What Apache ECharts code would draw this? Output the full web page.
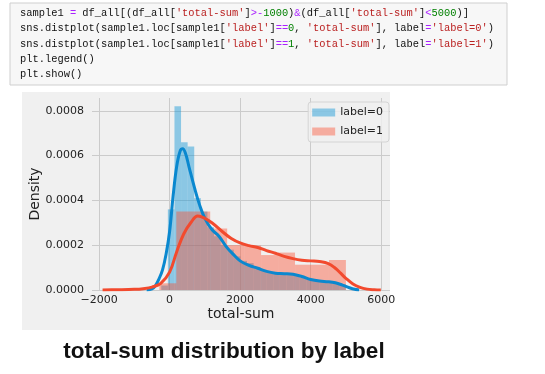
<!DOCTYPE html>
<html>
<head>
<meta charset="utf-8">
<script src="https://cdn.jsdelivr.net/npm/echarts@6/dist/echarts.min.js"></script>
<style>
html,body{margin:0;padding:0;background:#fff;}
#c{width:545px;height:374px;}
</style>
</head>
<body>
<div id="c"></div>
<script>
// ---- data ----
const seriesNames = ['label=0', 'label=1'];
const xTicks = [-2000, 0, 2000, 4000, 6000];
const yTicks = [0, 0.0002, 0.0004, 0.0006, 0.0008];

// histogram, label=0 (bin edges + densities)
const blueEdges = [-236, -49, 138, 325, 512, 699, 886, 1073, 1260, 1447, 1634, 1821, 2008, 2195, 2382,
  2569, 2756, 2943, 3130, 3317, 3504, 3691, 3878, 4065, 4252, 4439, 4626, 4813, 5000];
const blueHeights = [0.00002, 0.00036, 0.00082, 0.00066, 0.00064, 0.00041, 0.00035, 0.00028, 0.00024, 0.0002,
  0.00018, 0.00015, 0.00013, 0.00012, 0.0001, 0.00009, 0.00008, 0.000075, 0.00007, 0.00007,
  0.000065, 0.000055, 0.000048, 0.00004, 0.000038, 0.000036, 0.00003, 0.000025];

// histogram, label=1
const redEdges = [-291, 190, 671, 1152, 1633, 2114, 2595, 3076, 3557, 4038, 4519, 5000];
const redHeights = [0.00003, 0.00035, 0.00035, 0.000275, 0.0002, 0.000198, 0.000156, 0.000167, 0.000113, 0.000113, 0.000134];

// KDE curves
const blueKdeX = [-650, -500, -400, -300, -200, -100, 0, 100, 200, 300, 370, 450, 550, 700, 850, 1000, 1200, 1400,
  1600, 1800, 2000, 2250, 2500, 2750, 3000, 3250, 3500, 3750, 4000, 4250, 4500, 4700, 4900, 5100, 5250, 5375];
const blueKdeY = [0, 0.000005, 0.00002, 0.00005, 0.00009, 0.00016, 0.00026, 0.00042, 0.00055, 0.00062, 0.00063, 0.00061,
  0.00055, 0.00046, 0.00038, 0.00032, 0.00027, 0.00024, 0.000195, 0.00016, 0.00013, 0.00011, 0.000097, 0.000083,
  0.000075, 0.000073, 0.00007, 0.00006, 0.000047, 0.00004, 0.000037, 0.000032, 0.000022, 0.00001, 0.000003, 0];

const redKdeX = [-1900, -1500, -1000, -750, -500, -250, 0, 200, 400, 600, 800, 1000, 1200, 1500, 1750, 2000, 2250,
  2500, 2750, 3000, 3250, 3500, 3750, 4000, 4250, 4500, 4700, 4850, 5000, 5200, 5400, 5600, 5800, 5990];
const redKdeY = [0, 0.000001, 0.000003, 0.000006, 0.000013, 0.00003, 0.00008, 0.00017, 0.00025, 0.0003, 0.00033,
  0.00032, 0.0003, 0.00026, 0.00023, 0.00021, 0.000198, 0.00019, 0.000176, 0.000164, 0.00015, 0.00014, 0.000133,
  0.00013, 0.000127, 0.000118, 0.000097, 0.000075, 0.000052, 0.000027, 0.000012, 0.000004, 0.000001, 0];

// code cell text: [style, text] segments per line
const codeLines = [
  [['p','sample1 '],['o','='],['p',' df_all[(df_all['],['s',"'total-sum'"],['p',']'],['o','>-'],['n','1000'],['p',')'],['o','&'],['p','(df_all['],['s',"'total-sum'"],['p',']'],['o','<'],['n','5000'],['p',')]']],
  [['p','sns.distplot(sample1.loc[sample1['],['s',"'label'"],['p',']'],['o','=='],['n','0'],['p',', '],['s',"'total-sum'"],['p','], label'],['o','='],['s',"'label=0'"],['p',')']],
  [['p','sns.distplot(sample1.loc[sample1['],['s',"'label'"],['p',']'],['o','=='],['n','1'],['p',', '],['s',"'total-sum'"],['p','], label'],['o','='],['s',"'label=1'"],['p',')']],
  [['p','plt.legend()']],
  [['p','plt.show()']]
];
const captionText = 'total-sum distribution by label';

// ---- build ----
const BLUE = '#0a88cf', RED = '#f24a2e';
const BLUE_A = 'rgba(0,143,213,0.42)', RED_A = 'rgba(252,79,48,0.42)';

function bins(edges, heights) {
  return heights.map((h, i) => [edges[i], edges[i + 1], h]);
}
function pairs(xs, ys) { return xs.map((x, i) => [x, ys[i]]); }
function histRender(fill) {
  return function (params, api) {
    const p0 = api.coord([api.value(0), api.value(2)]);
    const p1 = api.coord([api.value(1), 0]);
    return { type: 'rect', shape: { x: p0[0], y: p0[1], width: p1[0] - p0[0], height: p1[1] - p0[1] },
      style: { fill: fill } };
  };
}

const CODE_FONT = '10.4px "Liberation Mono"';
const richStyles = {
  p: { fill: '#111', font: CODE_FONT },
  o: { fill: '#aa22ff', font: CODE_FONT },
  s: { fill: '#ba2121', font: CODE_FONT },
  n: { fill: '#008000', font: CODE_FONT }
};
const codeYs = [13, 28.5, 44, 59, 74];
const codeGraphics = codeLines.map((segs, i) => ({
  type: 'text', x: 20, y: codeYs[i], z: 10,
  style: { text: segs.map(s => '{' + s[0] + '|' + s[1] + '}').join(''), rich: richStyles,
    font: CODE_FONT, verticalAlign: 'middle', align: 'left' }
}));

const chart = echarts.init(document.getElementById('c'), null, { renderer: 'canvas' });
const axisFont = { fontFamily: 'DejaVu Sans', fontSize: 11, color: '#222' };
chart.setOption({
  backgroundColor: '#ffffff',
  animation: false,
  graphic: { elements: [
    { type: 'rect', z: -100, shape: { x: 10, y: 3, width: 497, height: 82 }, style: { fill: '#f7f7f7', stroke: '#cfcfcf', lineWidth: 1 } },
    { type: 'rect', z: -100, shape: { x: 22, y: 92, width: 368, height: 238 }, style: { fill: '#f0f0f0' } },
    ...codeGraphics,
    { type: 'text', x: 224, y: 352, z: 10, style: { text: captionText, font: 'bold 22.5px "Liberation Sans"', fill: '#111', align: 'center', verticalAlign: 'middle' } }
  ] },
  grid: { left: 92, top: 98, width: 298, height: 192, show: false },
  legend: {
    data: seriesNames.map((n, i) => ({ name: n, icon: 'rect', itemStyle: { color: i === 0 ? BLUE_A : RED_A } })),
    orient: 'vertical', right: 156, top: 102, itemWidth: 23, itemHeight: 8, itemGap: 8,
    textStyle: { fontFamily: 'DejaVu Sans', fontSize: 11, color: '#222' },
    backgroundColor: 'rgba(240,240,240,0.8)', borderColor: '#d4d4d4', borderWidth: 1, borderRadius: 3,
    padding: [5, 6, 5, 4]
  },
  xAxis: {
    type: 'value', min: -2200, max: 6250,
    name: 'total-sum', nameLocation: 'middle', nameGap: 17, nameMoveOverlap: false,
    nameTextStyle: { fontFamily: 'DejaVu Sans', fontSize: 14, color: '#222' },
    axisLine: { show: false },
    axisTick: { show: false, customValues: xTicks },
    axisLabel: Object.assign({ customValues: xTicks, margin: 5, formatter: v => String(v).replace('-', '\u2212') }, axisFont),
    splitLine: { show: true, lineStyle: { color: '#cbcbcb', width: 1 } }
  },
  yAxis: {
    type: 'value', min: 0, max: 0.000857,
    name: 'Density', nameLocation: 'middle', nameGap: 50, nameMoveOverlap: false,
    nameTextStyle: { fontFamily: 'DejaVu Sans', fontSize: 14, color: '#222' },
    axisLine: { show: false },
    axisTick: { show: false, customValues: yTicks },
    axisLabel: Object.assign({ customValues: yTicks, margin: 8, formatter: v => v.toFixed(4) }, axisFont),
    splitLine: { show: true, lineStyle: { color: '#cbcbcb', width: 1 } }
  },
  series: [
    { type: 'custom', name: seriesNames[0], data: bins(blueEdges, blueHeights), renderItem: histRender(BLUE_A),
      encode: { x: [0, 1], y: 2 }, itemStyle: { color: BLUE_A }, silent: true, clip: true },
    { type: 'line', name: 'kde0', data: pairs(blueKdeX, blueKdeY), smooth: 0.4, showSymbol: false,
      lineStyle: { width: 3, color: BLUE }, itemStyle: { color: BLUE }, silent: true },
    { type: 'custom', name: seriesNames[1], data: bins(redEdges, redHeights), renderItem: histRender(RED_A),
      encode: { x: [0, 1], y: 2 }, itemStyle: { color: RED_A }, silent: true, clip: true },
    { type: 'line', name: 'kde1', data: pairs(redKdeX, redKdeY), smooth: 0.4, showSymbol: false,
      lineStyle: { width: 3, color: RED }, itemStyle: { color: RED }, silent: true }
  ]
});
</script>
</body>
</html>
